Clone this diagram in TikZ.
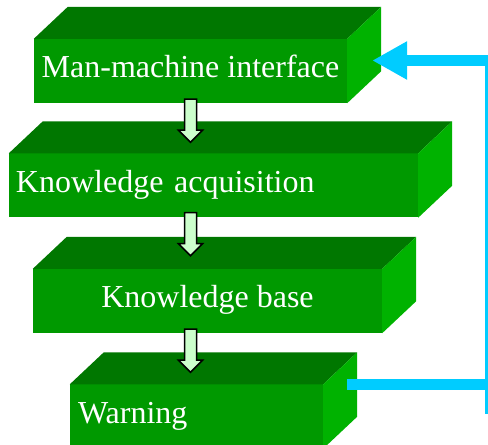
\documentclass[tikz,border=0pt]{standalone}
\usepackage{fontspec}
\setmainfont{Liberation Serif}
\usetikzlibrary{arrows.meta}
\definecolor{slabfront}{RGB}{0,153,0}
\definecolor{slabtop}{RGB}{0,119,0}
\definecolor{slabside}{RGB}{0,178,0}
\definecolor{flowfill}{RGB}{204,255,204}
\definecolor{loopcyan}{RGB}{0,204,255}

\begin{document}
\begin{tikzpicture}[x=1pt, y=1pt,
  slab/.style={fill=slabfront, text=white, minimum height=64pt, inner xsep=7pt,
    text height=22pt, text depth=8pt, font=\fontsize{32}{36}\selectfont},
  flowarrow/.style={draw=black, line width=1.5pt, fill=flowfill, line join=miter},
  feedback/.style={draw=loopcyan, line width=11pt}]
\useasboundingbox (0,0) rectangle (488,445);
\clip (0,0) rectangle (488,445);

% Slabs (front faces)
\node[slab, minimum width=313pt] (iface) at (190.5,374) {Man-machine interface};
\node[slab, text width=395pt, align=left] (acq) at (213.5,259.5) {Knowledge acquisition};
\node[slab, minimum width=349pt] (kbase) at (207.5,144) {Knowledge base};
\node[slab, inner xsep=8pt, text width=237pt, align=left] (warn) at (196.5,28.5) {Warning};

% Top and side faces
\foreach \b in {iface,acq,kbase,warn} {
  \fill[slabtop] (\b.north west) -- ++(34,32) -- ([shift={(34,32)}]\b.north east) -- (\b.north east) -- cycle;
  \fill[slabside] (\b.north east) -- ++(34,32) -- ([shift={(34,32)}]\b.south east) -- (\b.south east) -- cycle;
}

% Flow arrows
\draw[flowarrow] ([shift={(-6,4)}]iface.south) -- ++(0,-31) -- ++(-6,0) -- ++(12,-12) -- ++(12,12) -- ++(-6,0) -- ++(0,31) -- cycle;
\draw[flowarrow] ([shift={(-6,5)}]iface.south |- acq.south) -- ++(0,-31) -- ++(-6,0) -- ++(12,-12) -- ++(12,12) -- ++(-6,0) -- ++(0,31) -- cycle;
\draw[flowarrow] ([shift={(-6,4)}]iface.south |- kbase.south) -- ++(0,-31) -- ++(-6,0) -- ++(12,-12) -- ++(12,12) -- ++(-6,0) -- ++(0,31) -- cycle;

% Feedback loop
\coordinate (rail) at (490.5,31);
\draw[feedback] ([xshift=24pt]warn.north east) -- (rail |- warn.north);
\draw[feedback, line join=miter, -{Triangle[length=35pt,width=36pt]}] (rail) -- (rail |- 0,384.5) -- ([shift={(25,10.5)}]iface.east);
\end{tikzpicture}
\end{document}
